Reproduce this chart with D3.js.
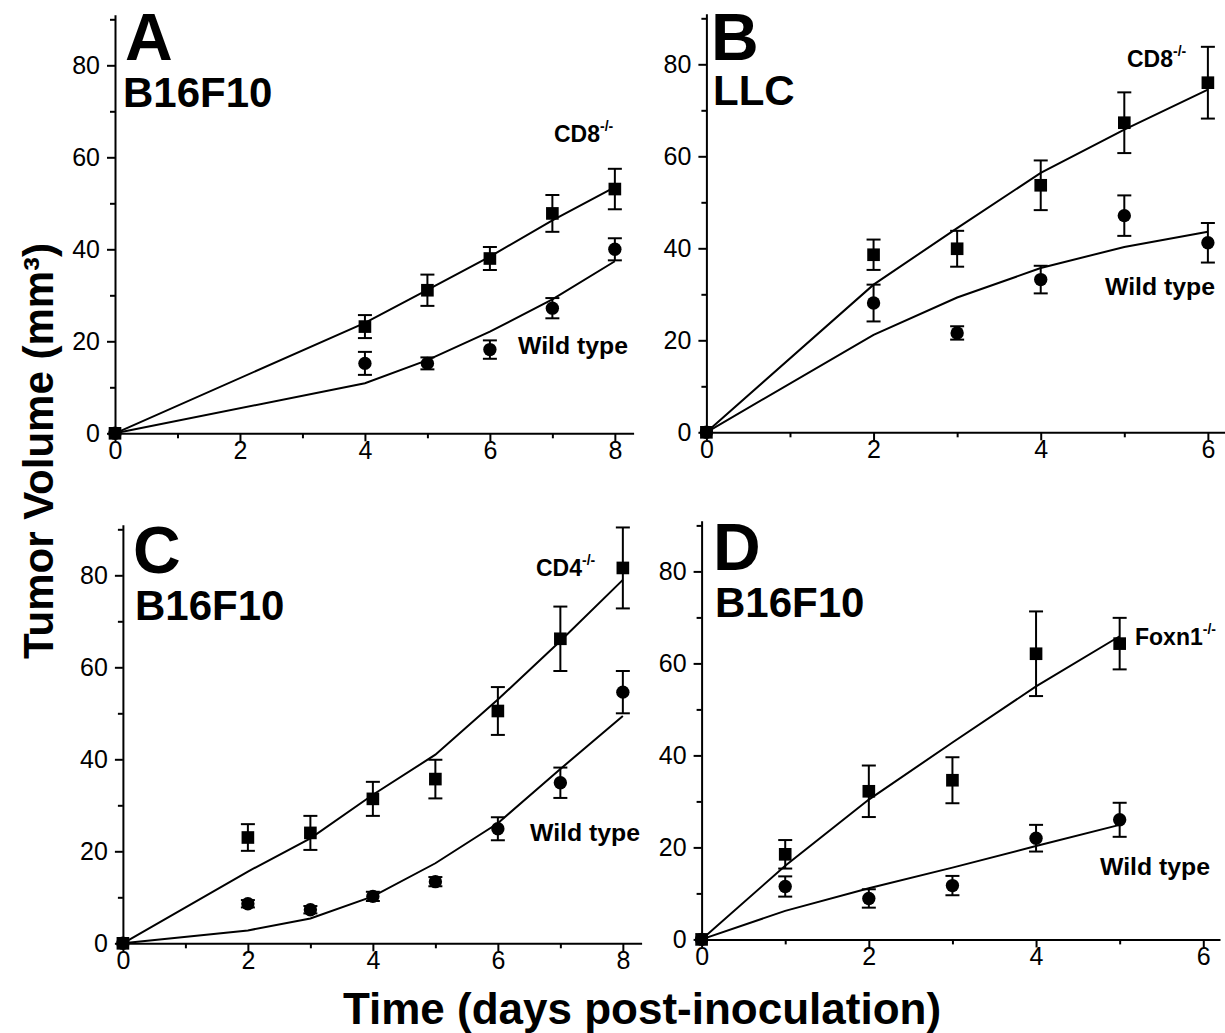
<html>
<head>
<meta charset="utf-8">
<title>Tumor volume</title>
<style>
  body { margin: 0; background: #fff; }
  text { font-family: "Liberation Sans", Arial, sans-serif; fill: #000; }
  .axis path, .axis line { stroke: #000; stroke-width: 2; }
  .axis text { font-size: 25px; font-family: "Liberation Sans", Arial, sans-serif; }
</style>
<script src="https://d3js.org/d3.v7.min.js"></script>
</head>
<body>
<svg width="1225" height="1033"></svg>
<script>
// ---- data ----
var daysA = [0, 4, 5, 6, 7, 8];
var koA = [0, 23.2, 31.1, 38.0, 47.8, 53.1];
var koErrA = [0, 2.5, 3.4, 2.5, 4.0, 4.4];
var wtA = [0, 15.2, 15.2, 18.2, 27.2, 40.0];
var wtErrA = [0, 2.5, 1.3, 2.0, 2.2, 2.4];
var koFitA = [0, 24.0, 31.2, 38.4, 46.3, 53.5];
var wtFitA = [0, 10.9, 15.9, 22.1, 29.1, 37.4];

var daysB = [0, 2, 3, 4, 5, 6];
var koB = [0, 38.6, 39.9, 53.7, 67.3, 76.0];
var koErrB = [0, 3.3, 3.9, 5.4, 6.6, 7.8];
var wtB = [0, 28.1, 21.6, 33.2, 47.1, 41.2];
var wtErrB = [0, 4.0, 1.45, 3.0, 4.4, 4.3];
var koFitB = [0, 32.1, 44.4, 56.4, 65.8, 74.5];
var wtFitB = [0, 21.2, 29.3, 35.7, 40.3, 43.6];

var daysC = [0, 2, 3, 4, 5, 6, 7, 8];
var koC = [0, 23.0, 24.0, 31.4, 35.7, 50.5, 66.2, 81.6];
var koErrC = [0, 2.9, 3.7, 3.7, 4.2, 5.2, 7.0, 8.8];
var wtC = [0, 8.6, 7.3, 10.2, 13.4, 24.9, 34.9, 54.6];
var wtErrC = [0, 0.8, 0.8, 1.0, 1.0, 2.5, 3.3, 4.6];
var koFitC = [0, 15.6, 22.8, 32.3, 41.0, 53.0, 65.7, 79.0];
var wtFitC = [0, 2.8, 5.4, 10.2, 17.4, 26.1, 37.9, 49.4];

var daysD = [0, 1, 2, 3, 4, 5];
var koD = [0, 18.5, 32.2, 34.6, 62.1, 64.3];
var koErrD = [0, 3.1, 5.6, 5.0, 9.2, 5.6];
var wtD = [0, 11.5, 8.9, 11.7, 22.0, 26.0];
var wtErrD = [0, 2.2, 2.0, 2.1, 2.9, 3.7];
var koFitD = [0, 16.0, 30.4, 42.8, 55.0, 65.9];
var wtFitD = [0, 6.2, 11.1, 15.6, 20.3, 24.9];

var yTicks = [0, 20, 40, 60, 80];
var yMinor = [10, 30, 50, 70, 90];
var xTicks8 = [0, 2, 4, 6, 8], xMinor8 = [1, 3, 5, 7];
var xTicks6 = [0, 2, 4, 6], xMinor6 = [1, 3, 5];

var xLabel = "Time (days post-inoculation)";
var yLabel = "Tumor Volume (mm\u00B3)";

// ---- panels: frame + annotation placement ----
var panels = [
  {days: daysA, ko: koA, koErr: koErrA, wt: wtA, wtErr: wtErrA, koFit: koFitA, wtFit: wtFitA,
   xMax: 8.3, xt: xTicks8, xm: xMinor8,
   left: 115, right: 633.6, bottom: 433.3,
   letter: "A", cell: "B16F10", ko_lbl: "CD8",
   letterPos: [125, 60], cellPos: [123, 107], koPos: [554, 142], wtPos: [518, 354]},
  {days: daysB, ko: koB, koErr: koErrB, wt: wtB, wtErr: wtErrB, koFit: koFitB, wtFit: wtFitB,
   xMax: 6.2, xt: xTicks6, xm: xMinor6,
   left: 706.4, right: 1224.6, bottom: 432.3,
   letter: "B", cell: "LLC", ko_lbl: "CD8",
   letterPos: [711, 60], cellPos: [713, 105], koPos: [1127, 67], wtPos: [1105, 295]},
  {days: daysC, ko: koC, koErr: koErrC, wt: wtC, wtErr: wtErrC, koFit: koFitC, wtFit: wtFitC,
   xMax: 8.3, xt: xTicks8, xm: xMinor8,
   left: 122.9, right: 641.6, bottom: 943.3,
   letter: "C", cell: "B16F10", ko_lbl: "CD4",
   letterPos: [133, 573], cellPos: [135, 620], koPos: [536, 576], wtPos: [530, 841]},
  {days: daysD, ko: koD, koErr: koErrD, wt: wtD, wtErr: wtErrD, koFit: koFitD, wtFit: wtFitD,
   xMax: 6.2, xt: xTicks6, xm: xMinor6,
   left: 701.6, right: 1220, bottom: 939.4,
   letter: "D", cell: "B16F10", ko_lbl: "Foxn1",
   letterPos: [713, 570], cellPos: [715, 617], koPos: [1135, 645], wtPos: [1100, 875]}
];

var svg = d3.select("svg");
var pxPerUnit = 4.6;
var fmt = d3.format("d");

panels.forEach(function(p) {
  var x = d3.scaleLinear().domain([0, p.xMax]).range([p.left, p.right]);
  var y = d3.scaleLinear().domain([0, 91]).range([p.bottom, p.bottom - 91 * pxPerUnit]);
  var g = svg.append("g");

  // minor ticks
  g.append("g").attr("class", "axis").attr("transform", `translate(0,${p.bottom})`)
    .call(d3.axisBottom(x).tickValues(p.xm).tickSize(5).tickSizeOuter(0).tickFormat(""))
    .select(".domain").remove();
  g.append("g").attr("class", "axis").attr("transform", `translate(${p.left},0)`)
    .call(d3.axisLeft(y).tickValues(yMinor).tickSize(5).tickSizeOuter(0).tickFormat(""))
    .select(".domain").remove();

  // major axes
  g.append("g").attr("class", "axis").attr("transform", `translate(0,${p.bottom})`)
    .call(d3.axisBottom(x).tickValues(p.xt).tickFormat(fmt).tickSize(8).tickPadding(0).tickSizeOuter(0));
  g.append("g").attr("class", "axis").attr("transform", `translate(${p.left},0)`)
    .call(d3.axisLeft(y).tickValues(yTicks).tickFormat(fmt).tickSize(8).tickPadding(7).tickSizeOuter(0));

  var line = d3.line().x(function(d) { return x(d[0]); }).y(function(d) { return y(d[1]); });
  [p.koFit, p.wtFit].forEach(function(fit) {
    g.append("path")
      .attr("d", line(p.days.map(function(d, i) { return [d, fit[i]]; })))
      .attr("fill", "none").attr("stroke", "#000").attr("stroke-width", 2);
  });

  // error bars + markers
  [[p.ko, p.koErr, d3.symbolSquare, 160], [p.wt, p.wtErr, d3.symbolCircle, 140]].forEach(function(s) {
    var vals = s[0], errs = s[1];
    p.days.forEach(function(d, i) {
      if (errs[i] > 0) {
        var cx = x(d), y1 = y(vals[i] - errs[i]), y2 = y(vals[i] + errs[i]);
        g.append("line").attr("x1", cx).attr("x2", cx).attr("y1", y1).attr("y2", y2)
          .attr("stroke", "#000").attr("stroke-width", 2);
        [y1, y2].forEach(function(yy) {
          g.append("line").attr("x1", cx - 7).attr("x2", cx + 7).attr("y1", yy).attr("y2", yy)
            .attr("stroke", "#000").attr("stroke-width", 2);
        });
      }
      g.append("path").attr("d", d3.symbol().type(s[2]).size(s[3]))
        .attr("transform", `translate(${x(d)},${y(vals[i])})`).attr("fill", "#000");
    });
  });

  // annotations
  g.append("text").attr("x", p.letterPos[0]).attr("y", p.letterPos[1])
    .style("font-size", "66px").style("font-weight", "bold").text(p.letter);
  g.append("text").attr("x", p.cellPos[0]).attr("y", p.cellPos[1])
    .style("font-size", "42px").style("font-weight", "bold").text(p.cell);
  var kt = g.append("text").attr("x", p.koPos[0]).attr("y", p.koPos[1])
    .style("font-size", "23px").style("font-weight", "bold");
  kt.append("tspan").text(p.ko_lbl);
  kt.append("tspan").attr("dy", -11).style("font-size", "14px").text("-/-");
  g.append("text").attr("x", p.wtPos[0]).attr("y", p.wtPos[1])
    .style("font-size", "23px").style("font-weight", "bold")
    .attr("textLength", 110).attr("lengthAdjust", "spacingAndGlyphs").text("Wild type");
});

svg.append("text").attr("x", 642).attr("y", 1024).attr("text-anchor", "middle")
  .style("font-size", "44px").style("font-weight", "bold").text(xLabel);
svg.append("text").attr("transform", "translate(53,451) rotate(-90)").attr("text-anchor", "middle")
  .style("font-size", "42px").style("font-weight", "bold").text(yLabel);
</script>
</body>
</html>
